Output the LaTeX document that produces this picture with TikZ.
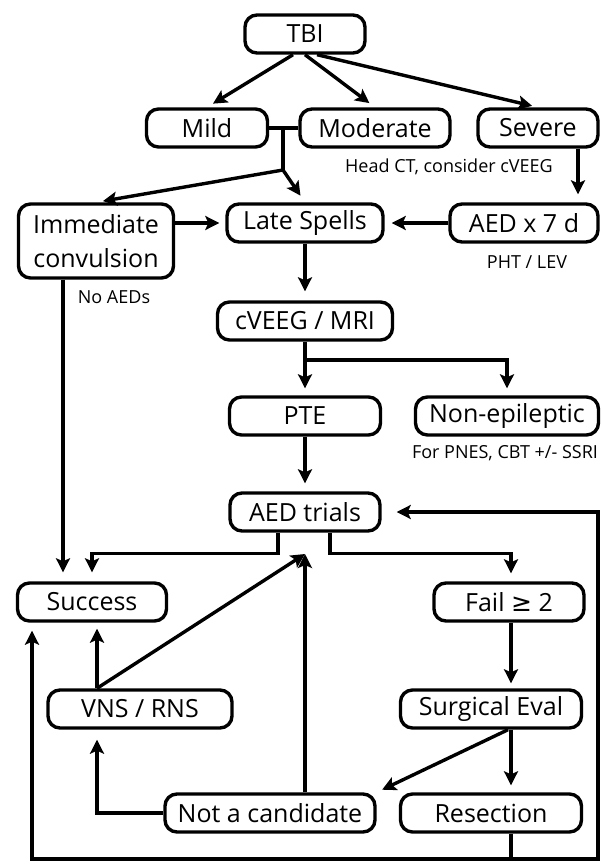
\documentclass[tikz,border=0pt]{standalone}
\usepackage{fontspec}
\setmainfont{Open Sans}
\newfontfamily\symfont{DejaVu Sans}
\usetikzlibrary{arrows.meta}
\begin{document}
\begin{tikzpicture}[x=1pt, y=-1pt]
	% Define styles for the boxes, notes and connectors
	\tikzstyle{box} = [draw, line width=3.4pt, rounded corners=12pt, inner sep=0pt, minimum height=38pt, align=center, font=\fontsize{25}{28}\selectfont]
	\tikzstyle{note} = [font=\fontsize{18}{21}\selectfont, inner sep=0pt]
	\tikzstyle{link} = [line width=3.4pt]
	\tikzstyle{flow} = [link, -{Stealth[length=14pt, width=14pt, inset=3pt]}]

	\useasboundingbox (0,0) rectangle (607,862);

	% Define the boxes with positions
	\node[box, minimum width=120pt] (tbi) at (305, 34) {TBI};
	\node[box, minimum width=121pt] (mild) at (207, 128) {Mild};
	\node[box, minimum width=150pt] (moderate) at (375, 128) {Moderate};
	\node[box, minimum width=120pt] (severe) at (538, 128) {Severe};

	\node[box, minimum width=155pt, minimum height=74pt] (imm) at (96, 241) {Immediate\\[6pt]convulsion};
	\node[box, minimum width=156pt] (late) at (305, 223) {Late Spells};
	\node[box, minimum width=148pt] (aed7) at (524, 223) {AED x 7 d};

	\node[box, minimum width=175pt] (cveeg) at (305, 321) {cVEEG / MRI};
	\node[box, minimum width=151pt] (pte) at (305, 416) {PTE};
	\node[box, minimum width=183pt] (nonep) at (507, 416) {Non-epileptic};
	\node[box, minimum width=150pt] (trials) at (305, 512) {AED trials};

	\node[box, minimum width=149pt] (success) at (92, 602) {Success};
	\node[box, minimum width=150pt] (fail) at (509, 602) {Fail {\symfont ≥} 2};
	\node[box, minimum width=184pt] (vns) at (140, 709) {VNS / RNS};
	\node[box, minimum width=181pt] (surg) at (491, 709) {Surgical Eval};
	\node[box, minimum width=210pt] (notcand) at (270, 813) {Not a candidate};
	\node[box, minimum width=181pt] (resect) at (491, 813) {Resection};

	% Place the notes
	\node[note] (headct) at (449, 167) {Head CT, consider cVEEG};
	\node[note] (phtlev) at (527, 262) {PHT / LEV};
	\node[note] (noaeds) at (114, 297) {No AEDs};
	\node[note] (pnes) at (505, 453) {For PNES, CBT +/- SSRI};

	% Junction points
	\coordinate (j0) at (283, 127);
	\coordinate (j1) at (283, 170);
	\coordinate (j2) at (305, 360);
	\coordinate (tin) at (305, 554);
	\coordinate (lp) at (511, 859);
	\coordinate (ll) at (32, 859);
	\coordinate (lr) at (598, 859);

	% Draw the connectors of the upper part
	\draw[flow, shorten >=7pt] ([xshift=-12pt]tbi.south) -- (mild.north);
	\draw[flow, shorten >=7pt] (tbi.south) -- (moderate.north);
	\draw[flow, shorten >=6pt] ([xshift=12pt]tbi.south) -- (severe.north);
	\draw[link] (mild.east) -- (moderate.west);
	\draw[link] (j0) -- (j1);
	\draw[flow, shorten >=7pt] (j1) -- (imm.north);
	\draw[flow, shorten >=8pt] (j1) -- (late.north);
	\draw[flow, shorten >=6pt] (imm.east |- late.west) -- (late.west);
	\draw[flow, shorten >=7pt] (aed7.west) -- (late.east);
	\draw[flow, shorten >=8pt] ([xshift=40pt]severe.south) -- ([xshift=40pt]severe.south |- aed7.north);

	% Draw the connectors of the middle part
	\draw[flow, shorten >=9pt] (late.south) -- (cveeg.north);
	\draw[flow, shorten >=7pt] (cveeg.south) -- (pte.north);
	\draw[flow, shorten >=7pt] (j2) -| (nonep.north);
	\draw[flow, shorten >=8pt] (pte.south) -- (trials.north);
	\draw[flow, shorten >=9pt] ([xshift=-33pt]imm.south) -- ([xshift=-33pt]imm.south |- success.north);
	\draw[flow, shorten >=9pt] ([xshift=-27pt]trials.south) -- ++(0, 21) -| (success.north);
	\draw[flow, shorten >=8pt] ([xshift=25pt]trials.south) -- ++(0, 21) -| ([xshift=2pt]fail.north);

	% Draw the connectors of the lower part
	\draw[flow, shorten >=5pt] ([xshift=2pt]fail.south) -- ([xshift=2pt]fail.south |- surg.north);
	\draw[flow, shorten >=7pt] ([xshift=20pt]surg.south) -- ([xshift=20pt]resect.north);
	\draw[flow, shorten >=6pt] ([xshift=17pt]surg.south) -- (notcand.north east);
	\draw[flow, shorten >=10pt] (notcand.west) -| ([xshift=-43pt]vns.south);
	\draw[flow] ([xshift=35pt]notcand.north) -- ([xshift=35pt]notcand.north |- tin);
	\draw[flow] ([xshift=-43pt]vns.north) -- (tin);
	\draw[flow, shorten >=6pt] ([xshift=-43pt]vns.north) -- ([xshift=-43pt]vns.north |- success.south);

	% Draw the loop back from the resection
	\draw[link] ([xshift=20pt]resect.south) -- (lp);
	\draw[flow, shorten >=8pt] (lp) -- (ll) -- (ll |- success.south);
	\draw[flow, shorten >=15pt] (lp) -- (lr) |- (trials.east);

\end{tikzpicture}
\end{document}
